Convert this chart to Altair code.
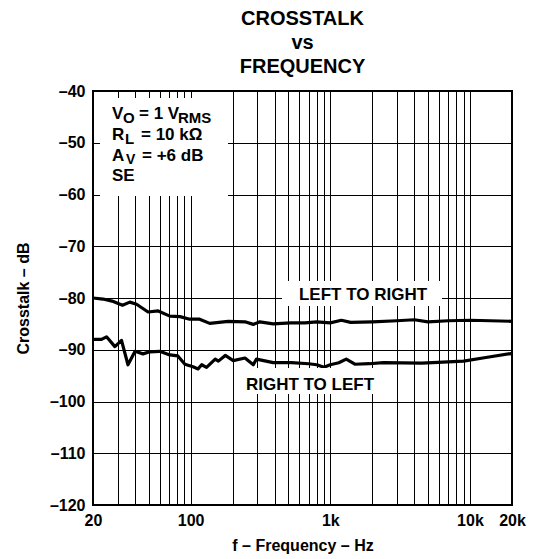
import altair as alt
import pandas as pd

# Data
lr_freq = [20, 23.6, 27.4, 32.5, 36.7, 41, 49.6, 58.6, 71, 84, 98.5, 116, 137, 186, 245, 281, 313, 390, 520, 658,
           800, 1000, 1200, 1400, 2000, 3000, 4000, 5000, 7000, 10000, 14000, 20000]
lr_db = [-80.0, -80.2, -80.6, -81.4, -80.8, -81.2, -82.7, -82.5, -83.5, -83.6, -84.1, -84.1, -84.9, -84.5, -84.6,
         -85.1, -84.6, -85.0, -84.8, -84.8, -84.6, -84.8, -84.3, -84.7, -84.6, -84.4, -84.2, -84.6, -84.4, -84.3,
         -84.4, -84.5]

rl_freq = [20, 23, 25, 28.7, 32, 35.6, 40, 45.6, 51, 60, 71, 81, 91, 104, 113, 120, 130, 150, 158, 177, 202, 245,
           281, 296, 390, 528, 700, 800, 900, 1000, 1150, 1300, 1500, 1900, 2400, 4500, 5400, 9000, 13000, 20000]
rl_db = [-88.0, -88.0, -87.5, -89.4, -88.2, -92.9, -90.3, -90.8, -90.4, -90.3, -91.0, -91.2, -92.8, -93.3, -93.7,
         -92.9, -93.4, -91.8, -92.2, -91.1, -92.1, -91.6, -92.9, -91.8, -92.5, -92.5, -92.7, -92.9, -93.4, -92.9,
         -92.5, -91.8, -92.8, -92.7, -92.5, -92.6, -92.5, -92.2, -91.5, -90.7]

x_grid = [20, 30, 40, 50, 60, 70, 80, 90, 100, 200, 300, 400, 500, 600, 700, 800, 900,
          1000, 2000, 3000, 4000, 5000, 6000, 7000, 8000, 9000, 10000, 20000]
y_ticks = [-120, -110, -100, -90, -80, -70, -60, -50, -40]

title_lines = ["CROSSTALK", "vs", "FREQUENCY"]
x_title = "f – Frequency – Hz"
y_title = "Crosstalk – dB"

FONT = "Liberation Sans"

df = pd.concat([
    pd.DataFrame({"f": lr_freq, "db": lr_db, "s": "LEFT TO RIGHT"}),
    pd.DataFrame({"f": rl_freq, "db": rl_db, "s": "RIGHT TO LEFT"}),
])

x_label_expr = ("datum.value == 20 ? '20' : datum.value == 100 ? '100' : datum.value == 1000 ? '1k' : "
                "datum.value == 10000 ? '10k' : datum.value == 20000 ? '20k' : ''")

lines = alt.Chart(df).mark_line(color="black", strokeWidth=3.2, strokeJoin="round").encode(
    x=alt.X("f:Q", scale=alt.Scale(type="log", domain=[20, 20000], nice=False),
            axis=alt.Axis(values=x_grid, labelExpr=x_label_expr, title=x_title, labelFlush=False,
                          labelOverlap=False, labelPadding=7, titlePadding=9)),
    y=alt.Y("db:Q", scale=alt.Scale(domain=[-120, -40], nice=False),
            axis=alt.Axis(values=y_ticks, labelExpr="'–' + abs(datum.value)", title=y_title,
                          labelPadding=8, titlePadding=18)),
    detail="s:N",
)

# white boxes behind annotations (hide grid lines)
boxes_df = pd.DataFrame({
    "x": [7, 189, 142], "x2": [135, 349, 292],
    "y": [7, 190, 277], "y2": [105, 215, 303],
})
boxes = alt.Chart(boxes_df).mark_rect(color="white").encode(
    x=alt.X("x:Q", scale=None), x2="x2:Q", y=alt.Y("y:Q", scale=None), y2="y2:Q"
)

def txt(s, x, y, size=17, align="left"):
    return alt.Chart(pd.DataFrame({"t": [s]})).mark_text(
        font=FONT, fontWeight="bold", fontSize=size, align=align, baseline="alphabetic", color="black"
    ).encode(text="t:N", x=alt.value(x), y=alt.value(y))

ann = [
    txt("V", 19, 28), txt("O", 30, 32, 15), txt("= 1 V", 46, 28), txt("RMS", 85, 32, 15),
    txt("R", 19, 49), txt("L", 32, 53, 15), txt("= 10 kΩ", 48, 49),
    txt("A", 19, 70), txt("V", 33, 73, 14), txt("= +6 dB", 49, 70),
    txt("SE", 19, 90),
    txt("LEFT TO RIGHT", 270, 209, 17, "center"),
    txt("RIGHT TO LEFT", 217, 299, 17, "center"),
]

chart = alt.layer(lines, boxes, *ann).properties(
    width=419, height=414,
    title=alt.TitleParams(title_lines, fontSize=20, font=FONT, fontWeight="bold", anchor="middle",
                          lineHeight=24, offset=6, color="black"),
    autosize=alt.AutoSizeParams(type="none"),
    padding={"left": 85, "top": 83, "right": 15, "bottom": 53},
).configure_view(stroke="black", strokeWidth=2).configure_axis(
    grid=True, gridColor="black", gridOpacity=1, gridWidth=1, domain=False, ticks=False,
    labelFont=FONT, labelFontWeight="bold", labelFontSize=16, labelColor="black",
    titleFont=FONT, titleFontWeight="bold", titleFontSize=16, titleColor="black",
)

chart.save("out.html", embed_options={"renderer": "svg", "actions": False})
